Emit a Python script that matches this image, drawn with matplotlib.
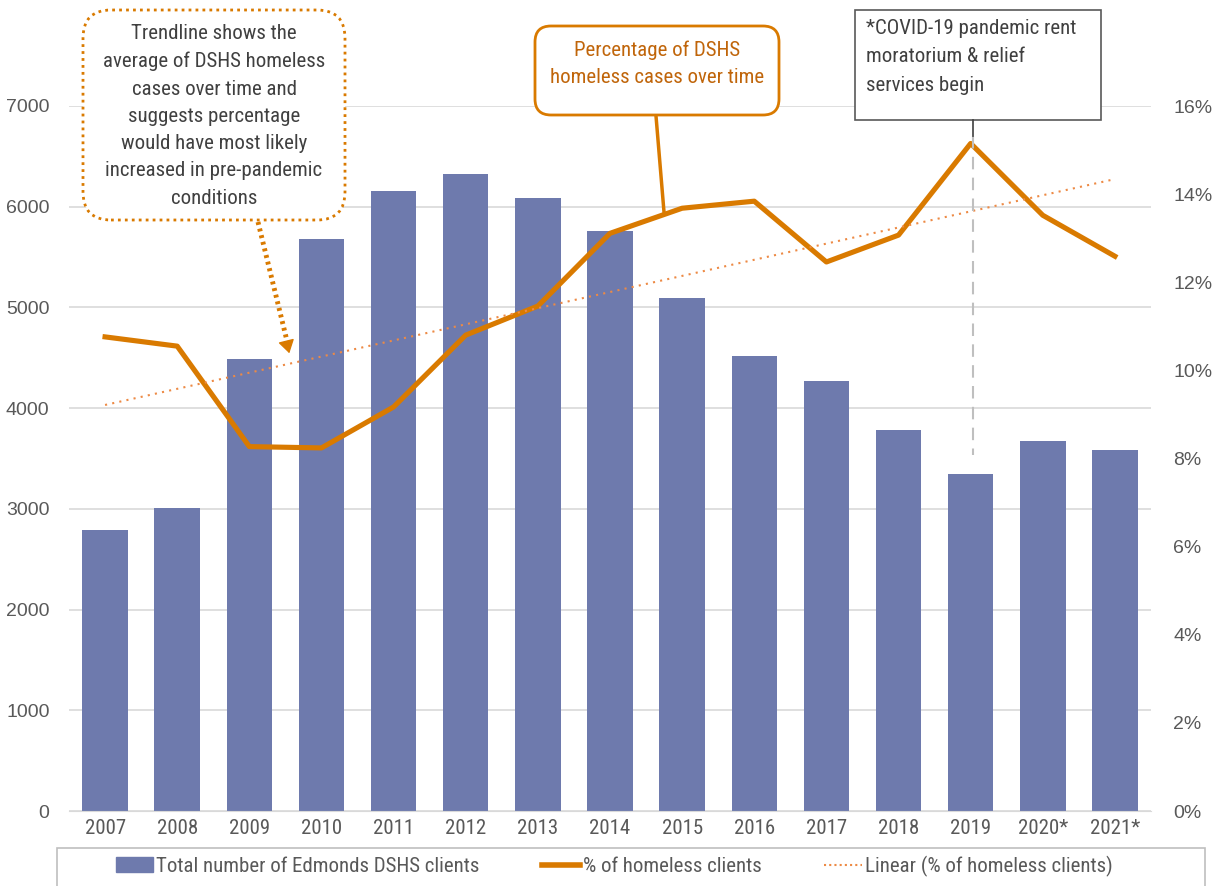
import numpy as np
import matplotlib
matplotlib.use('Agg')
import matplotlib.pyplot as plt
from matplotlib import font_manager
from matplotlib.patches import Rectangle, Patch, FancyArrowPatch, FancyBboxPatch
from matplotlib.lines import Line2D
from matplotlib.transforms import IdentityTransform

# pick a narrow family if one is installed
names = {f.name for f in font_manager.fontManager.ttflist}
narrow = next((n for n in ['Liberation Sans Narrow', 'Roboto Condensed', 'Open Sans Condensed',
                           'DejaVu Sans Condensed', 'Liberation Sans'] if n in names), 'DejaVu Sans')
plt.rcParams['font.family'] = [narrow, 'DejaVu Sans']

# data
years = ['2007', '2008', '2009', '2010', '2011', '2012', '2013', '2014',
         '2015', '2016', '2017', '2018', '2019', '2020*', '2021*']
clients = [2790, 3010, 4490, 5680, 6160, 6320, 6090, 5760,
           5090, 4520, 4270, 3780, 3350, 3670, 3580]
pct_homeless = [10.76, 10.55, 8.27, 8.24, 9.17, 10.80, 11.46, 13.11,
                13.68, 13.84, 12.46, 13.07, 15.15, 13.52, 12.59]

bar_col = '#6E7AAD'
line_col = '#D97A00'
trend_col = '#ED8A45'
txt_col = '#595959'

W, H = 1213, 886
fig = plt.figure(figsize=(W / 100, H / 100), dpi=100)
ax = fig.add_axes([69 / W, 75 / H, (1151 - 69) / W, (811 - 106) / H])
ax2 = ax.twinx()

x = np.arange(len(years))
ax.bar(x, clients, width=0.63, color=bar_col, zorder=2)
ax.set_ylim(0, 7000)
ax.set_xlim(-0.5, len(years) - 0.5)
ax.set_yticks(range(0, 7001, 1000))
ax.yaxis.grid(True, color='#D9D9D9', lw=1.2, zorder=0)
ax.set_axisbelow(True)
ax.set_xticks(x)
ax.set_xticklabels(years)

pct = np.array(pct_homeless) / 100
ax2.plot(x, pct, color=line_col, lw=3.7, zorder=3)
k, b = np.polyfit(x, pct, 1)
ax2.plot(x, k * x + b, color=trend_col, lw=1.5, ls=(0, (1, 2.5)), zorder=3)
ax2.set_ylim(0, 0.16)
ax2.set_yticks(np.arange(0, 0.161, 0.02))
ax2.set_yticklabels([f'{int(round(v * 100))}%' for v in np.arange(0, 0.161, 0.02)])

for a in (ax, ax2):
    for s in a.spines.values():
        s.set_visible(False)
    a.tick_params(length=0, labelsize=14, colors=txt_col)
    for lab in a.get_yticklabels():
        lab.set_family(['Liberation Sans', 'DejaVu Sans'])
ax.spines['bottom'].set_visible(True)
ax.spines['bottom'].set_color('#D9D9D9')
ax.tick_params(axis='y', pad=14)
ax.tick_params(axis='x', pad=6, labelsize=15)
ax2.tick_params(axis='y', pad=16)


def fp(px, py):
    # pixel from top-left -> figure fraction
    return (px / W, 1 - py / H)


def box(x0, y0, x1, y1, r, **kw):
    # rounded box in pixels, top-left origin
    p = FancyBboxPatch((x0, H - y1), x1 - x0, y1 - y0,
                       boxstyle=f'round,pad=0,rounding_size={r}',
                       transform=IdentityTransform(), fc='white', **kw)
    fig.add_artist(p)


# dotted trendline callout
box(83, 10, 345, 220, 28, ec=line_col, ls=(0, (1, 1.5)), lw=2)
fig.text(*fp(214, 116), 'Trendline shows the\naverage of DSHS homeless\ncases over time and\nsuggests percentage\nwould have most likely\nincreased in pre-pandemic\nconditions',
         ha='center', va='center', fontsize=15, color='#404040', linespacing=1.55)
fig.add_artist(Line2D([258 / W, 288 / W], [1 - 222 / H, 1 - 345 / H], color=line_col,
                      lw=3.5, ls=(0, (0.6, 0.8)), transform=fig.transFigure))
fig.add_artist(FancyArrowPatch(fp(286, 340), fp(290, 356),
               transform=fig.transFigure, arrowstyle='-|>,head_width=5,head_length=8',
               color=line_col, lw=1, mutation_scale=1))

# percentage callout
box(535, 26, 779, 115, 16, ec=line_col, lw=2)
fig.text(*fp(657, 64), 'Percentage of DSHS\nhomeless cases over time', ha='center', va='center',
         fontsize=15, color='#C0650A', linespacing=1.5)
fig.add_artist(Line2D([656 / W, 664 / W], [1 - 116 / H, 1 - 212 / H], color=line_col,
                      lw=2.5, transform=fig.transFigure))

# covid callout
fig.add_artist(Rectangle(fp(855, 120), 246 / W, 110 / H, transform=fig.transFigure,
                         fc='white', ec='#595959', lw=1.2))
fig.text(*fp(866, 57), '*COVID-19 pandemic rent\nmoratorium & relief\nservices begin', ha='left', va='center',
         fontsize=15, color='#404040', linespacing=1.62)
fig.add_artist(Line2D([973 / W, 973 / W], [1 - 120 / H, 1 - 136 / H], color='#404040',
                      lw=1.2, transform=fig.transFigure))
fig.add_artist(Line2D([973 / W, 973 / W], [1 - 136 / H, 1 - 455 / H], color='#BFBFBF',
                      lw=1.5, ls=(0, (6, 4)), transform=fig.transFigure, zorder=1))

# legend box (cut off at bottom)
fig.add_artist(Rectangle(fp(57, 890), (1205 - 57) / W, (890 - 848) / H, transform=fig.transFigure,
                         fc='white', ec='#BFBFBF', lw=1.2))
handles = [Patch(color=bar_col), Line2D([], [], color=line_col, lw=4),
           Line2D([], [], color=trend_col, lw=1.5, ls=(0, (1, 1.5)))]
labels = ['Total number of Edmonds DSHS clients', '% of homeless clients',
          'Linear (% of homeless clients)']
fig.legend(handles, labels, loc='center', bbox_to_anchor=fp(614, 866), ncol=3, frameon=False,
           fontsize=15, labelcolor=txt_col, handlelength=1.8, handletextpad=0.15,
           columnspacing=3.0)

fig.savefig('out.png', dpi=100)
